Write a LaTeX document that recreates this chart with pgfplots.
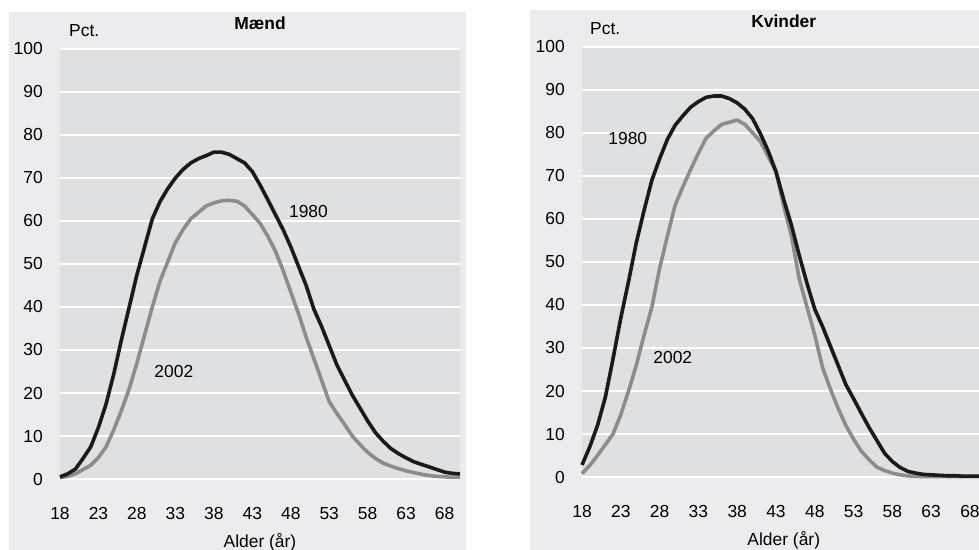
\documentclass[border=0pt]{standalone}
\usepackage{fontspec}
\setmainfont{Liberation Sans}
\usepackage{pgfplots}
\pgfplotsset{compat=1.18}
\definecolor{panelbg}{HTML}{ECECEE}
\definecolor{plotbg}{HTML}{DFE0E2}
\definecolor{lineA}{HTML}{1A1A1A}
\definecolor{lineB}{HTML}{8C8C8C}
\newcommand{\fs}{\fontsize{17.5}{20}\selectfont}
\pgfplotsset{
  panel/.style={
    anchor=south west, scale only axis, height=430bp,
    xmin=18, xmax=70, ymin=0, ymax=100,
    axis background/.style={fill=plotbg},
    axis line style={draw=none},
    major tick length=0pt,
    xtick={18,23,...,68}, ytick={0,10,...,100},
    ymajorgrids, grid style={white, line width=1.6bp},
    /pgf/number format/assume math mode=true,
    ticklabel style={font=\fs, inner sep=0pt},
    yticklabel style={anchor=east, xshift=-17bp},
    xticklabel style={anchor=base, yshift=-40bp},
    xlabel={Alder (år)},
    xlabel style={at={(axis description cs:0.5,0)}, anchor=base, yshift=-68bp, inner sep=0pt, font=\fs},
    title style={at={(axis description cs:0.5,1)}, anchor=base, yshift=14bp, inner sep=0pt, font=\fs\bfseries},
    clip=false,
  },
  l80/.style={color=lineA, line width=3.6bp, line join=round, no marks},
  l02/.style={color=lineB, line width=3.6bp, line join=round, no marks},
}
\begin{document}
\begin{tikzpicture}
\path[use as bounding box] (0bp,0bp) rectangle (979bp,550bp);
\fill[panelbg] (9bp,0bp) rectangle (466bp,538bp);
\fill[panelbg] (530bp,0bp) rectangle (1000bp,540bp);
\begin{axis}[panel, at={(60bp,71bp)}, width=400bp, title={Mænd}]
\addplot[l02] coordinates {
(18,0.3)(19,0.6)(20,1.2)(21,2.2)(22,3.2)(23,5)(24,7.5)(25,11.5)(26,16)(27,21)
(28,27)(29,33.5)(30,40)(31,46)(32,50.5)(33,55)(34,58)(35,60.5)(36,62)(37,63.5)
(38,64.2)(39,64.7)(40,64.8)(41,64.6)(42,63.5)(43,61.5)(44,59.5)(45,56.5)(46,53)(47,48.5)
(48,43.5)(49,38.5)(50,33)(51,28)(52,23)(53,18)(54,15.2)(55,12.7)(56,10)(57,8)
(58,6.2)(59,4.8)(60,3.7)(61,3)(62,2.4)(63,1.9)(64,1.5)(65,1.1)(66,0.8)(67,0.6)
(68,0.5)(69,0.4)(70,0.4)};
\addplot[l80] coordinates {
(18,0.5)(19,1.2)(20,2.3)(21,4.8)(22,7.5)(23,12)(24,17.5)(25,24.5)(26,32.5)(27,40)
(28,47.5)(29,54)(30,60.5)(31,64.5)(32,67.5)(33,70)(34,72)(35,73.5)(36,74.5)(37,75.2)
(38,76)(39,76)(40,75.5)(41,74.5)(42,73.5)(43,71.5)(44,68.4)(45,65)(46,61.5)(47,58)
(48,54)(49,49.5)(50,45)(51,39.5)(52,35.5)(53,31)(54,26.5)(55,23)(56,19.5)(57,16.5)
(58,13.5)(59,10.8)(60,8.8)(61,7.1)(62,5.9)(63,4.9)(64,4)(65,3.4)(66,2.8)(67,2.2)
(68,1.6)(69,1.3)(70,1.2)};
\node[anchor=base west, inner sep=0pt, font=\fs] at (rel axis cs:0,1) [xshift=9bp, yshift=12bp] {Pct.};
\node[font=\fs, inner sep=0pt] at (axis cs:50.3,62.1) {1980};
\node[font=\fs, inner sep=0pt] at (axis cs:32.8,24.9) {2002};
\end{axis}
\begin{axis}[panel, at={(582bp,73bp)}, width=403.5bp, title={Kvinder}]
\addplot[l02] coordinates {
(18,0.8)(19,2.7)(20,5)(21,7.5)(22,10)(23,14.5)(24,20)(25,26)(26,33)(27,39.5)
(28,48.5)(29,56)(30,63.2)(31,67.5)(32,71.5)(33,75.3)(34,78.8)(35,80.5)(36,82)(37,82.5)
(38,83)(39,82)(40,80)(41,78)(42,74.5)(43,71)(44,63)(45,56)(46,46)(47,39.5)
(48,33)(49,25.5)(50,20.5)(51,16)(52,12)(53,8.8)(54,6)(55,4)(56,2.3)(57,1.5)
(58,0.9)(59,0.5)(60,0.25)(61,0.15)(62,0.1)(63,0.1)(64,0.1)(65,0.1)(66,0.1)(67,0.1)
(68,0.1)(69,0.1)(70,0.1)};
\addplot[l80] coordinates {
(18,2.8)(19,7)(20,12)(21,18.5)(22,27.5)(23,37)(24,45.5)(25,54.5)(26,62)(27,69)
(28,74)(29,78.5)(30,81.8)(31,84)(32,86)(33,87.3)(34,88.3)(35,88.6)(36,88.6)(37,88)
(38,87)(39,85.5)(40,83.3)(41,79.8)(42,75.8)(43,71)(44,64.5)(45,58.5)(46,51.5)(47,45)
(48,39)(49,35)(50,30.5)(51,26)(52,21.5)(53,18.2)(54,14.8)(55,11.5)(56,8.5)(57,5.5)
(58,3.6)(59,2.2)(60,1.3)(61,0.9)(62,0.6)(63,0.5)(64,0.4)(65,0.3)(66,0.3)(67,0.2)
(68,0.2)(69,0.2)(70,0.2)};
\node[anchor=base west, inner sep=0pt, font=\fs] at (rel axis cs:0,1) [xshift=8bp, yshift=12bp] {Pct.};
\node[font=\fs, inner sep=0pt] at (axis cs:23.9,78.8) {1980};
\node[font=\fs, inner sep=0pt] at (axis cs:29.7,27.7) {2002};
\end{axis}
\end{tikzpicture}
\end{document}
